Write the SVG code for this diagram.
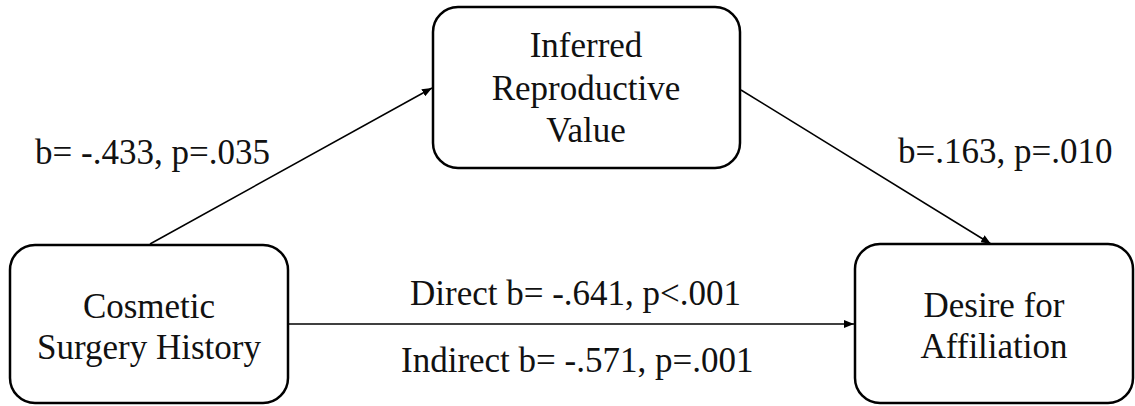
<svg xmlns="http://www.w3.org/2000/svg" width="1135" height="406" viewBox="0 0 1135 406">
<style>
.box{fill:#fff;stroke:#000;stroke-width:2.5}
.t{font-family:"Liberation Serif","Times New Roman",serif;font-size:35px;fill:#111}
.c{text-anchor:middle}
.ln{stroke:#000;stroke-width:1.5;fill:none}
</style>
<defs>
<marker id="ah" viewBox="0 0 10 8" refX="10" refY="4" markerWidth="10" markerHeight="8" markerUnits="userSpaceOnUse" orient="auto">
<path d="M0,0 L10,4 L0,8 Z" fill="#000"/>
</marker>
</defs>
<g id="connectors">
<line class="ln" x1="150" y1="244" x2="432" y2="88" marker-end="url(#ah)"/>
<line class="ln" x1="741" y1="90" x2="991" y2="244" marker-end="url(#ah)"/>
<line class="ln" x1="289" y1="324" x2="854" y2="324" marker-end="url(#ah)"/>
</g>
<g id="node-cosmetic">
<rect class="box" x="10" y="245" width="278" height="158" rx="25"/>
<text class="t c" x="149" y="318">Cosmetic</text>
<text class="t c" x="149" y="359">Surgery History</text>
</g>
<g id="node-inferred">
<rect class="box" x="433" y="7" width="307" height="161" rx="25"/>
<text class="t c" x="586" y="57">Inferred</text>
<text class="t c" x="586" y="100">Reproductive</text>
<text class="t c" x="586" y="142">Value</text>
</g>
<g id="node-desire">
<rect class="box" x="855" y="244" width="278" height="159" rx="25"/>
<text class="t c" x="994" y="317">Desire for</text>
<text class="t c" x="994" y="358">Affiliation</text>
</g>
<g id="labels">
<text class="t" x="35" y="164">b= -.433, p=.035</text>
<text class="t" x="898" y="163">b=.163, p=.010</text>
<text class="t" x="410" y="305">Direct b= -.641, p&lt;.001</text>
<text class="t" x="401" y="372">Indirect b= -.571, p=.001</text>
</g>
</svg>
